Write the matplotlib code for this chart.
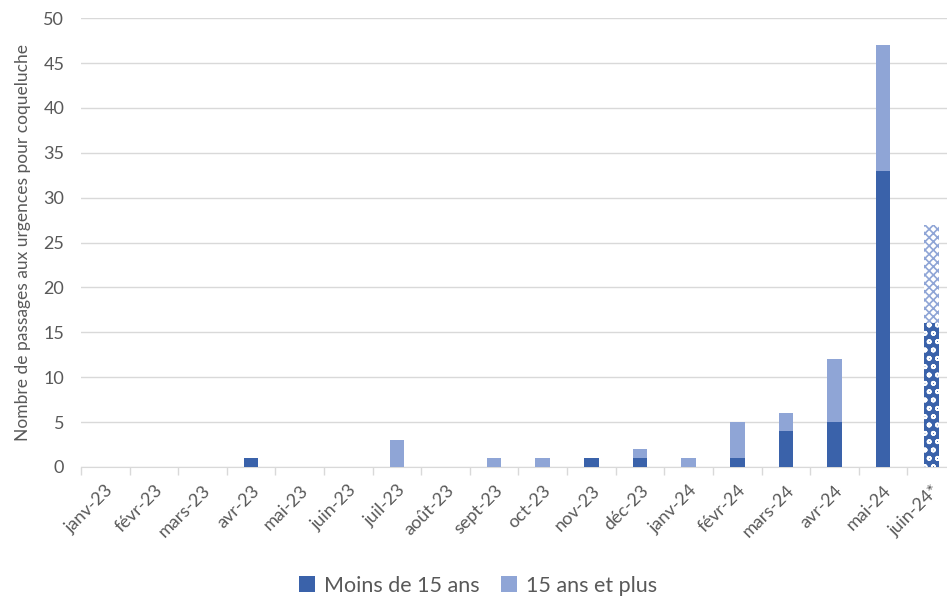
import matplotlib
matplotlib.use("Agg")
import matplotlib.pyplot as plt
import numpy as np

plt.rcParams['font.family'] = ['Lato', 'DejaVu Sans']
plt.rcParams['hatch.linewidth'] = 1.2

mois = ["janv-23", "févr-23", "mars-23", "avr-23", "mai-23", "juin-23", "juil-23",
        "août-23", "sept-23", "oct-23", "nov-23", "déc-23", "janv-24", "févr-24",
        "mars-24", "avr-24", "mai-24", "juin-24*"]
moins_15 = [0, 0, 0, 1, 0, 0, 0, 0, 0, 0, 1, 1, 0, 1, 4, 5, 33, 16]
plus_15 = [0, 0, 0, 0, 0, 0, 3, 0, 1, 1, 0, 1, 1, 4, 2, 7, 14, 11]

fonce = "#3A62AA"
clair = "#8FA5D6"
gris = "#595959"

fig = plt.figure(figsize=(9.47, 6), dpi=100)
ax = fig.add_axes([0.0855, 0.2217, 0.924, 0.748])

x = np.arange(len(mois))
w = 0.3
n = len(mois) - 1  # dernier mois incomplet -> motif

ax.bar(x[:n], moins_15[:n], w, color=fonce, label="Moins de 15 ans", zorder=3)
ax.bar(x[:n], plus_15[:n], w, bottom=moins_15[:n], color=clair, label="15 ans et plus", zorder=3)
# juin-24 partiel
ax.bar(x[n], moins_15[n], w, color=fonce, edgecolor="white", hatch="oo", linewidth=0, zorder=3)
ax.bar(x[n], plus_15[n], w, bottom=moins_15[n], color="white", edgecolor=clair, hatch="xxxx",
       linewidth=0, zorder=3)

ax.set_xlim(-0.5, len(mois) - 0.5)
ax.set_ylim(0, 50)
ax.set_yticks(range(0, 51, 5))
ax.yaxis.grid(True, color="#D9D9D9", linewidth=1, zorder=0)
ax.set_xticks(x)
ax.set_xticklabels(mois, rotation=45, ha="right", rotation_mode="anchor", color=gris, fontsize=13)
ax.set_xticks(np.arange(-0.5, len(mois), 1), minor=True)
ax.tick_params(axis="x", which="major", length=0, pad=11)
ax.tick_params(axis="x", which="minor", length=6, color="#D9D9D9", width=1)
ax.tick_params(axis="y", length=0, labelsize=13, labelcolor=gris, pad=12)
for s in ["top", "right", "left"]:
    ax.spines[s].set_visible(False)
ax.spines["bottom"].set_color("#D9D9D9")
ax.set_ylabel("Nombre de passages aux urgences pour coqueluche", color=gris, fontsize=12.5, labelpad=9)

fig.legend(loc="lower center", ncol=2, frameon=False, fontsize=15.5, handlelength=0.75,
           handleheight=0.75, handletextpad=0.4, columnspacing=1.0,
           bbox_to_anchor=(0.505, -0.025), labelcolor=gris)

fig.savefig("out.png", dpi=100)
